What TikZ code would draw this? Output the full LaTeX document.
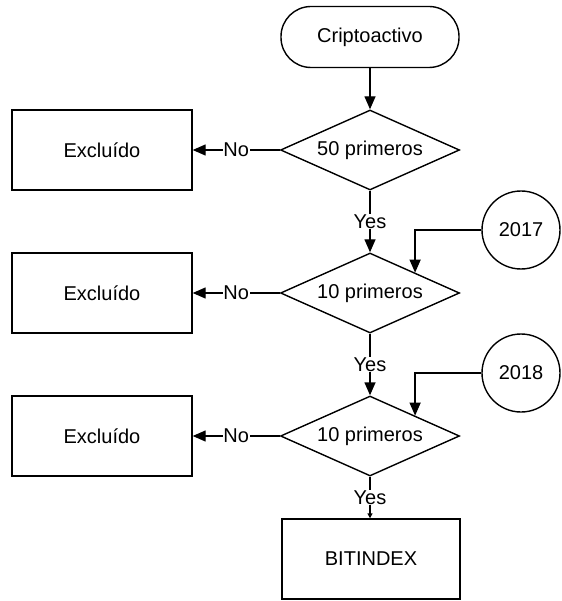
\documentclass[tikz,border=0pt]{standalone}
\usepackage{fontspec}
\setmainfont{Liberation Sans}
\usetikzlibrary{shapes.geometric,arrows.meta}
\begin{document}
\begin{tikzpicture}[x=1pt,y=-1pt,
  every node/.style={font=\fontsize{20}{24}\selectfont},
  base/.style={draw=black,line width=1.4pt,fill=white},
  term/.style={base,rectangle,rounded corners=30pt,minimum width=178pt,minimum height=61pt},
  proc/.style={base,rectangle,minimum width=180pt,minimum height=80pt},
  dec/.style={base,diamond,aspect=2.24,minimum width=179pt,minimum height=80pt,inner sep=0pt},
  yr/.style={base,circle,minimum size=78pt,inner sep=0pt},
  conn/.style={line width=1.4pt,-{Triangle[length=13pt,width=11pt]}},
  smallconn/.style={line width=1.4pt,-{Triangle[length=5pt,width=5pt]}},
  lab/.style={fill=white,inner sep=0.5pt}
]
\useasboundingbox (0,0) rectangle (561,601);
\node[term] (start) at (370,37) {Criptoactivo};
\node[dec] (d1) at (370,150) {50 primeros};
\node[dec] (d2) at (370,293) {10 primeros};
\node[dec] (d3) at (370,436) {10 primeros};
\node[proc] (e1) at (102,150) {Excluído};
\node[proc] (e2) at (102,293) {Excluído};
\node[proc] (e3) at (102,436) {Excluído};
\node[proc,minimum width=178pt] (bit) at (371,559) {BITINDEX};
\node[yr] (y17) at (521,230) {2017};
\node[yr] (y18) at (521,373) {2018};

\draw[conn] (start) -- (d1);
\draw[conn] (d1.west) -- node[lab]{No} (e1.east);
\draw[conn] (d2.west) -- node[lab]{No} (e2.east);
\draw[conn] (d3.west) -- node[lab]{No} (e3.east);
\draw[conn] (d1.south) -- node[lab]{Yes} (d2.north);
\draw[conn] (d2.south) -- node[lab]{Yes} (d3.north);
\draw[smallconn] (d3.south) -- node[lab]{Yes} (bit.north -| d3.south);
\draw[conn] (y17.west) -| (d2.north east);
\draw[conn] (y18.west) -| (d3.north east);
\end{tikzpicture}
\end{document}
